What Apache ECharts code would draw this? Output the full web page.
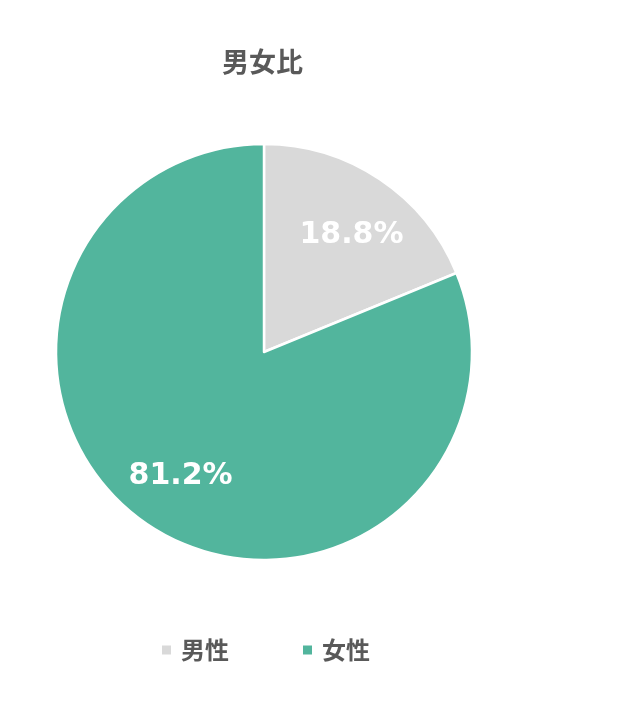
<!DOCTYPE html>
<html><head><meta charset="utf-8">
<script src="https://cdn.jsdelivr.net/npm/echarts@6/dist/echarts.min.js"></script>
<style>html,body{margin:0;padding:0;background:#fff}#c{width:633px;height:708px}</style>
</head><body><div id="c"></div>
<script>
const titleText = '男女比';
const categories = ['男性', '女性'];
const values = [18.8, 81.2];
const labels = ['18.8%', '81.2%'];
const colors = ['#D9D9D9', '#52B59D'];

const CX = 264, CY = 352, R = 208;
const labelNudge = [[4, 8], [0, 0]];
const chart = echarts.init(document.getElementById('c'));
chart.setOption({
  animation: false,
  title: {
    text: titleText, left: 217, top: 43,
    textStyle: {fontFamily: 'Noto Sans CJK JP', fontWeight: 'bold', fontSize: 27, color: '#595959'}
  },
  legend: {
    data: categories, top: 633, left: 155,
    icon: 'rect', itemWidth: 11, itemHeight: 11, itemGap: 72,
    textStyle: {fontFamily: 'Noto Sans CJK JP', fontWeight: 'bold', fontSize: 24, color: '#595959', padding: [0,0,0,4]}
  },
  series: [{
    type: 'pie', center: [CX, CY], radius: [0, R],
    startAngle: 90, clockwise: true,
    itemStyle: {borderColor: '#fff', borderWidth: 2.5},
    label: {
      show: true, position: 'inside',
      formatter: p => labels[p.dataIndex],
      fontFamily: 'DejaVu Sans', fontWeight: 'bold', fontSize: 30, color: '#fff'
    },
    labelLayout: function (p) {
      const r = p.labelRect;
      const lx = r.x + r.width / 2, ly = r.y + r.height / 2;
      const k = 0.40;
      const n = labelNudge[p.dataIndex];
      return {dx: (lx - CX) * k + n[0], dy: (ly - CY) * k + n[1]};
    },
    emphasis: {disabled: true},
    data: categories.map((c, i) => ({name: c, value: values[i], itemStyle: {color: colors[i]}}))
  }]
});
</script></body></html>
